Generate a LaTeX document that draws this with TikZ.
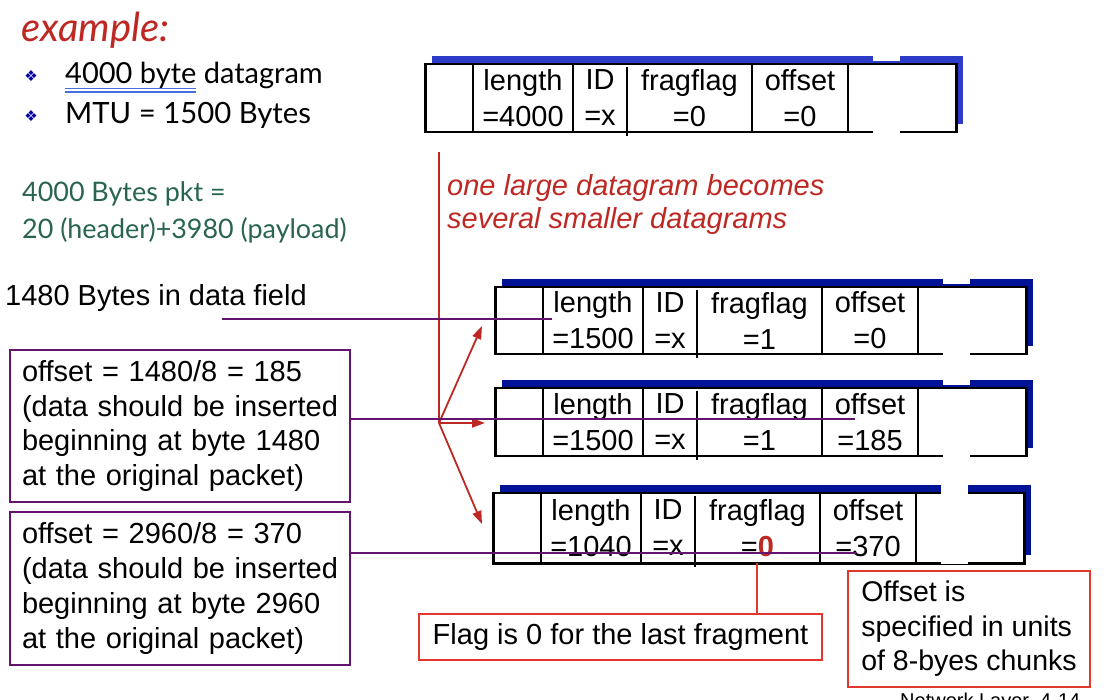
\documentclass[tikz,border=0pt]{standalone}
\usepackage{fontspec}
\setmainfont{Liberation Sans}
\newfontfamily\gill{Lato}
\newfontfamily\dejavu{DejaVu Sans}
\usetikzlibrary{arrows.meta}
\definecolor{navy}{RGB}{0,18,150}
\definecolor{topblue}{RGB}{45,60,200}
\definecolor{purp}{RGB}{100,20,110}
\definecolor{darkred}{RGB}{190,40,35}
\definecolor{boxred}{RGB}{225,55,45}
\definecolor{pktgreen}{RGB}{40,100,80}
\definecolor{bulletblue}{RGB}{0,0,160}
\definecolor{ulblue}{RGB}{70,110,220}
\newcommand\myfs[2]{\fontsize{#1}{#2}\selectfont}
\newcommand\dgram[8]{%
  \fill[#8] ({#2+8},{#3-7}) rectangle ({#2+539},{#3+#4-7});
  \node[draw, line width=2.5pt, fill=white, minimum width=531, minimum height=#4,
        inner sep=0pt, anchor=north west] (#1) at (#2,#3) {};
  \foreach \dx in {49,149,328,424}
    \draw[line width=2pt] ({#2+\dx},#3) -- ({#2+\dx},{#3+#4});
  \draw[line width=1.3pt] ({#2+203},{#3+4}) -- ({#2+203},{#3+#4+5});
  \fill[white] ({#2+449},{#3-8}) rectangle ({#2+476},{#3-1.5});
  \fill[white] ({#2+449},{#3+#4-1.5}) rectangle ({#2+476},{#3+#4+2});
  \node[cell] (#1len) at ({#2+99},{#3+#4/2+1}) {length\\#5};
  \node[cell] (#1id)  at ({#2+176},{#3+#4/2+1}) {ID\\=x};
  \node[cell] (#1ff)  at ({#2+265.5},{#3+#4/2+1}) {fragflag\\#6};
  \node[cell] (#1off) at ({#2+376},{#3+#4/2+1}) {offset\\#7};
}
\tikzset{
  cell/.style={inner sep=0pt, align=center, font=\myfs{29}{36}},
  purpline/.style={draw=purp, line width=1.3pt},
  purpbox/.style={draw=purp, line width=1.3pt, inner xsep=12pt, inner ysep=0pt,
                  align=left, text width=316pt, minimum height=152,
                  font=\myfs{29}{34.7}},
  redbox/.style={draw=boxred, line width=1.3pt, inner sep=0pt},
  splitarrow/.style={draw=darkred, line width=1.8pt, -{Triangle[length=13pt,width=9pt]}},
}
\begin{document}
\begin{tikzpicture}[x=1pt,y=-1pt]
\useasboundingbox[fill=white] (0,0) rectangle (1112,700);

% left header texts
\node[anchor=base west, inner sep=0pt, font=\gill\itshape\myfs{40}{44}, text=darkred] (ex) at (21,42) {example:};
\node[inner sep=0pt, font=\dejavu\myfs{15}{15}, text=bulletblue] (b1) at (31,76) {❖};
\node[inner sep=0pt, font=\dejavu\myfs{15}{15}, text=bulletblue] (b2) at (31,116) {❖};
\node[anchor=base west, inner sep=0pt, font=\gill\myfs{29}{32}] (t1) at (65,84) {4000 byte datagram};
\node[anchor=base west, inner sep=0pt, font=\gill\myfs{29.3}{32}] (t2) at (65,124) {MTU = 1500 Bytes};
\draw[ulblue, line width=1.2pt] (65,88.5) -- (196,88.5);
\draw[ulblue, line width=1.2pt] (65,92) -- (196,92);
\node[anchor=west, inner sep=0pt, align=left, font=\gill\myfs{26.9}{37}, text=pktgreen] (pkt) at (22,212)
  {4000 Bytes pkt =\\20 (header)+3980 (payload)};

% datagrams
\dgram{d0}{424}{63}{68}{=4000}{=0}{=0}{topblue}
\dgram{f1}{494}{286}{67}{=1500}{=1}{=0}{navy}
\dgram{f2}{494}{387}{68}{=1500}{=1}{=185}{navy}
\dgram{f3}{492}{492}{70}{=1040}{=\textcolor{darkred}{\textbf{0}}}{=370}{navy}
\fill[white] (941,484) rectangle (968,494);

% red italic caption
\node[anchor=west, inner sep=0pt, align=left, font=\itshape\myfs{29}{33}, text=darkred] (cap) at (447,205)
  {one large datagram becomes\\several smaller datagrams};

% splitting arrows
\coordinate (vtop) at (439,152);
\coordinate (split) at (439,423);
\coordinate (a1) at (482,326);
\coordinate (a2) at (485,423);
\coordinate (a3) at (482,524);
\draw[darkred, line width=2.2pt] (vtop) -- (split);
\draw[splitarrow] (split) -- (a1);
\draw[splitarrow] (split) -- (a2);
\draw[splitarrow] (split) -- (a3);

% 1480 bytes label
\node[anchor=base west, inner sep=0pt, font=\myfs{29}{34}] (dataf) at (5,306) {1480 Bytes in data field};
\coordinate (l0s) at (222,319);
\coordinate (l0e) at (552,319);
\draw[purpline] (l0s) -- (l0e);

% offset explanation boxes
\node[purpbox] (box1) at (180,426)
  {offset = 1480/8 = 185\\(data should be inserted\\beginning at byte 1480\\at the original packet)};
\node[purpbox, minimum height=153] (box2) at (180,588.5)
  {offset = 2960/8 = 370\\(data should be inserted\\beginning at byte 2960\\at the original packet)};
\coordinate (l1e) at (855,419);
\coordinate (l2e) at (856,553);
\draw[purpline] (box1.east |- l1e) -- (l1e);
\draw[purpline] (box2.east |- l2e) -- (l2e);

% red note boxes
\node[redbox, minimum width=403, minimum height=46, font=\myfs{29}{34}] (flag) at (620.5,637)
  {Flag is 0 for the last fragment};
\coordinate (zr) at (757,563);
\draw[boxred, line width=1.3pt] (flag.north -| zr) -- (zr);
\node[redbox, inner xsep=10pt, minimum width=242, minimum height=116, align=left, font=\myfs{28.5}{34.5}] (unit) at (969,629)
  {Offset is\\specified in units\\of 8-byes chunks};

% footer (cut off at the lower edge, as in the reference)
\begin{scope}
\clip (0,0) rectangle (1112,700);
\node[anchor=base west, inner sep=0pt, font=\myfs{20}{22}] (foot) at (900,707) {Network Layer\ \ 4-14};
\end{scope}
\end{tikzpicture}
\end{document}
